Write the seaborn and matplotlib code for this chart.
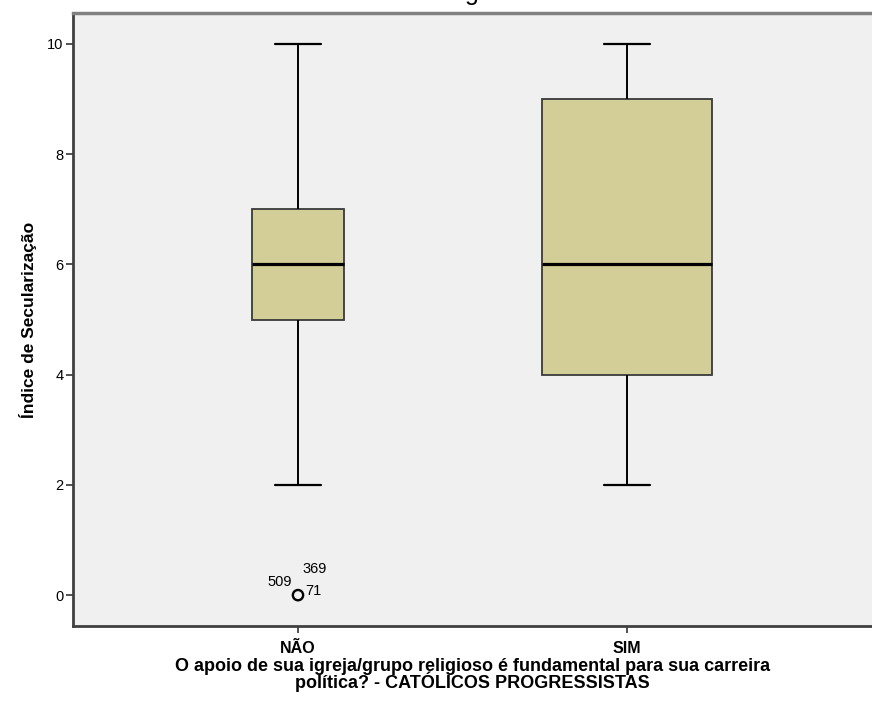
import matplotlib
matplotlib.use("Agg")
import matplotlib.pyplot as plt
import seaborn as sns
import pandas as pd

categories = ["NÃO", "SIM"]
# five-number summaries: min, Q1, median, Q3, max
nao_summary = [2, 5, 6, 7, 10]
sim_summary = [2, 4, 6, 9, 10]
box_widths = [0.28, 0.517]
outlier_values = [0]
outlier_cat = ["NÃO"]
outlier_labels = ["509", "369", "71"]

sns.set_theme(style="white")
plt.rcParams["font.family"] = ["Liberation Sans", "DejaVu Sans"]
plt.rcParams["text.color"] = "black"
plt.rcParams["axes.labelcolor"] = "black"
plt.rcParams["xtick.color"] = "black"
plt.rcParams["ytick.color"] = "black"

fig = plt.figure(figsize=(8.72, 7.11), dpi=100)
fig.patch.set_facecolor("white")
ax = fig.add_axes([73 / 872, 85 / 711, 1 - 73 / 872, 613 / 711])
ax.set_facecolor("#F0F0F0")

box_color = "#D3CE97"
common = dict(
    color=box_color,
    whis=(0, 100),
    showfliers=False,
    linecolor="#000000",
    boxprops=dict(edgecolor="#3a3a3a", linewidth=1.3),
    medianprops=dict(color="black", linewidth=2.3),
    whiskerprops=dict(color="black", linewidth=1.4),
    capprops=dict(color="black", linewidth=1.6),
    capwidths=0.14,
    saturation=1,
)

for cat, summ, w in zip(categories, [nao_summary, sim_summary], box_widths):
    df = pd.DataFrame({"cat": [cat] * len(summ), "val": summ})
    sns.boxplot(data=df, x="cat", y="val", order=categories, width=w, ax=ax, **common)

odf = pd.DataFrame({"cat": outlier_cat, "val": outlier_values})
sns.scatterplot(data=odf, x="cat", y="val", ax=ax, marker="o", s=55,
                facecolor="none", edgecolor="black", linewidth=1.7, zorder=5)

lab_kw = dict(textcoords="offset points", fontsize=10.5, color="black", va="baseline")
ax.annotate(outlier_labels[0], (0, outlier_values[0]), xytext=(-22, 6.5), **lab_kw)
ax.annotate(outlier_labels[1], (0, outlier_values[0]), xytext=(3, 15.8), **lab_kw)
ax.annotate(outlier_labels[2], (0, outlier_values[0]), xytext=(5.5, 0), **lab_kw)

ax.set_xlim(-0.684, 1.745)
ax.set_ylim(-0.56, 10.56)
ax.set_yticks([0, 2, 4, 6, 8, 10])
ax.set_yticklabels(["0", "2", "4", "6", "8", "10"], fontsize=10.5)
ax.set_xticks([0, 1])
ax.set_xticklabels(categories, fontsize=11.5, fontweight="bold")
ax.tick_params(axis="both", which="both", direction="out", length=5, width=1.2,
               color="#333333", left=True, bottom=True, pad=2)
ax.tick_params(axis="x", pad=6)

for side in ["left", "bottom"]:
    ax.spines[side].set_color("#404040")
    ax.spines[side].set_linewidth(2.0)
ax.spines["top"].set_color("#808080")
ax.spines["top"].set_linewidth(2.5)
ax.spines["right"].set_visible(False)

ax.set_ylabel("Índice de Secularização", fontsize=12.5, fontweight="bold", labelpad=7)
ax.set_xlabel("O apoio de sua igreja/grupo religioso é fundamental para sua carreira\npolítica? - CATÓLICOS PROGRESSISTAS",
              fontsize=13, fontweight="bold", labelpad=1, linespacing=0.8)

fig.text(0.541, 1.0, "g", ha="center", va="baseline", fontsize=18, color="black")

fig.savefig("out.png", dpi=100, facecolor="white")
